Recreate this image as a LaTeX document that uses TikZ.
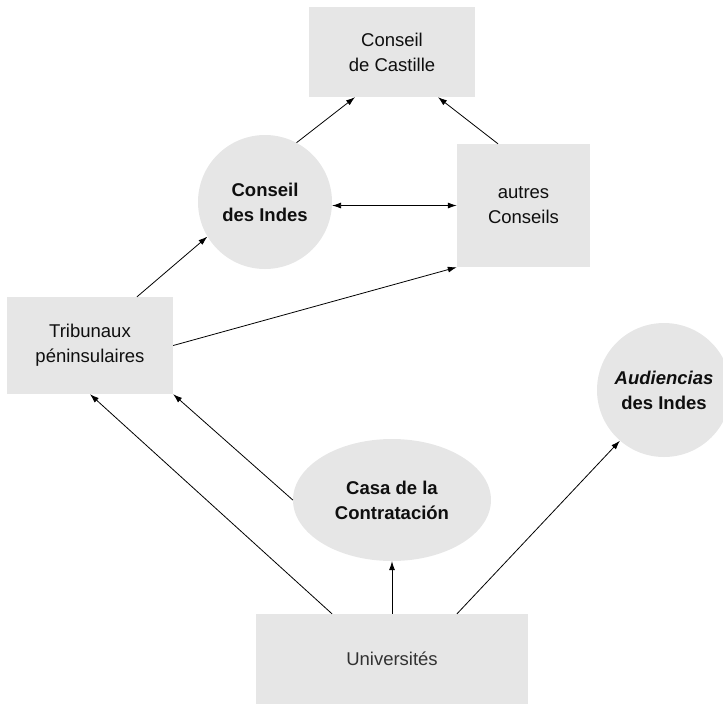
\documentclass[tikz,border=0pt]{standalone}
\usepackage{fontspec}
\setmainfont{Liberation Sans}
\usetikzlibrary{arrows.meta,shapes.geometric,calc}
\definecolor{boxfill}{RGB}{230,230,230}
\definecolor{txt}{RGB}{15,15,15}
\definecolor{txtlight}{RGB}{50,50,50}
\begin{document}
\begin{tikzpicture}[x=1pt,y=-1pt,
  every node/.style={font=\fontsize{18.5}{25}\selectfont, text=txt, align=center, inner sep=0pt},
  boxnode/.style={rectangle, fill=boxfill},
  roundnode/.style={circle, fill=boxfill},
  ovalnode/.style={ellipse, fill=boxfill},
  arr/.style={-{Latex[length=9pt,width=6pt]}, line width=0.8pt, draw=black},
  dblarr/.style={{Latex[length=9pt,width=6pt]}-{Latex[length=9pt,width=6pt]}, line width=0.8pt, draw=black},
]
\useasboundingbox (0,0) rectangle (723,705);
\node[boxnode, minimum width=166pt, minimum height=90pt] (castille) at (392,52) {Conseil\\de Castille};
\node[roundnode, minimum size=134pt] (indes) at (265,202) {\textbf{Conseil}\\\textbf{des Indes}};
\node[boxnode, minimum width=133pt, minimum height=123pt] (autres) at (523.5,205.5) {autres\\Conseils};
\node[boxnode, minimum width=166pt, minimum height=97pt] (trib) at (90,345.5) {Tribunaux\\péninsulaires};
\node[roundnode, minimum size=134pt] (aud) at (664,390) {\textbf{\textit{Audiencias}}\\\textbf{des Indes}};
\node[ovalnode, minimum width=198pt, minimum height=122pt] (casa) at (392,500) {\textbf{Casa de la}\\\textbf{Contratación}};
\node[boxnode, minimum width=272pt, minimum height=90pt, text=txtlight] (univ) at (392,659) {Universités};

\draw[arr] (indes.62) -- ($(castille.south)+(-37,0)$);
\draw[arr] ($(autres.north)+(-25.5,0)$) -- ($(castille.south)+(46,0)$);
\draw[dblarr] (indes.-3) -- (indes.-3 -| autres.west);
\draw[arr] ($(trib.north)+(47,0)$) -- (indes.211);
\draw[arr] (trib.east) -- (autres.south west);
\draw[arr] ($(univ.north)+(-60,0)$) -- (trib.south);
\draw[arr] (casa.west) -- (trib.south east);
\draw[arr] (univ.north) -- (casa.south);
\draw[arr] ($(univ.north)+(65,0)$) -- (aud.229);
\end{tikzpicture}
\end{document}
